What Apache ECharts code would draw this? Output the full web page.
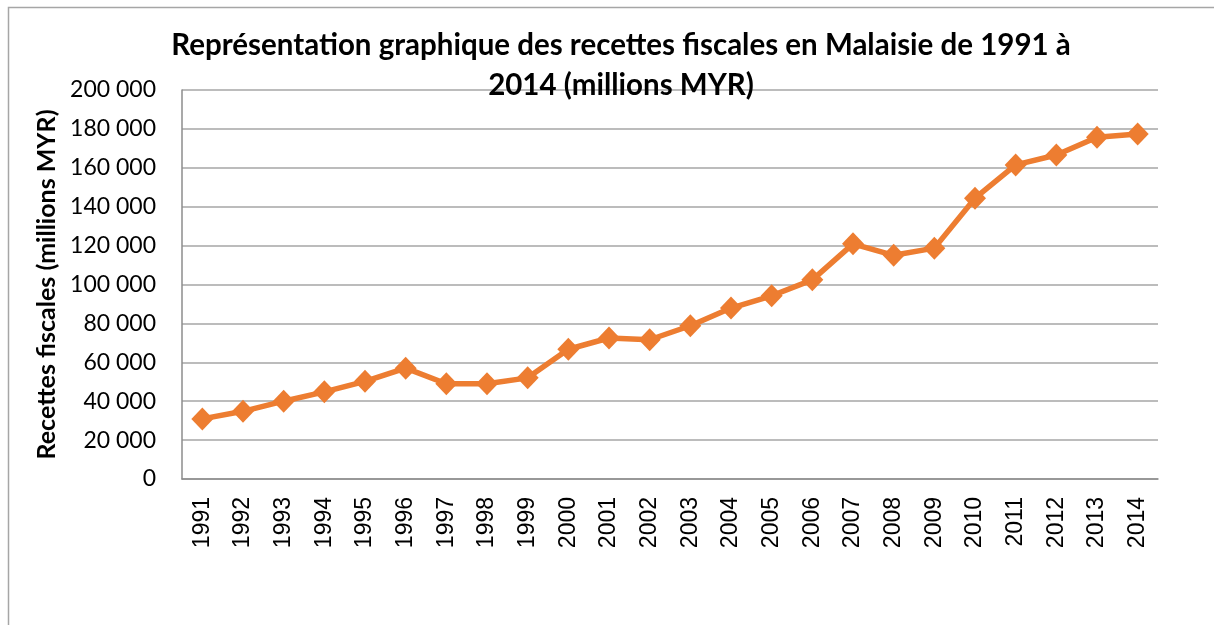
<!DOCTYPE html>
<html>
<head>
<meta charset="utf-8">
<title>Recettes fiscales Malaisie</title>
<script src="https://cdn.jsdelivr.net/npm/echarts@6/dist/echarts.min.js"></script>
<style>
  html, body { margin: 0; padding: 0; background: #fff; }
  #chart { width: 1214px; height: 625px; }
</style>
</head>
<body>
<div id="chart"></div>
<script>
// années (catégories)
const years = [
  "1991", "1992", "1993", "1994", "1995", "1996", "1997", "1998",
  "1999", "2000", "2001", "2002", "2003", "2004", "2005", "2006",
  "2007", "2008", "2009", "2010", "2011", "2012", "2013", "2014"
];

// recettes fiscales (millions MYR)
const recettes = [
  30900, 34800, 40000, 44800, 50200, 57000, 49000, 49000,
  52000, 66700, 72500, 71600, 78800, 87900, 94200, 102400,
  120900, 115000, 118700, 144400, 161500, 166600, 175700, 177400
];

const yTicks = { min: 0, max: 200000, interval: 20000 };

const titleText = "Représentation graphique des recettes fiscales en Malaisie de 1991 à\n2014 (millions MYR)";
const yAxisName = "Recettes fiscales (millions MYR)";

const lineColor = "#ED7D31";

const chart = echarts.init(document.getElementById("chart"));

// séparateur de milliers avec espace
const fmt = v => String(v).replace(/\B(?=(\d{3})+(?!\d))/g, " ");

chart.setOption({
  animation: false,
  backgroundColor: "#fff",
  title: {
    text: titleText,
    left: 616,
    textAlign: "center",
    top: 20,
    textStyle: {
      fontFamily: "Lato",
      fontSize: 29.5,
      fontWeight: "bold",
      color: "#000",
      lineHeight: 40
    }
  },
  graphic: [
    {
      type: "polyline",
      shape: { points: [[8.5, 625], [8.5, 7.5], [1214, 7.5]] },
      style: { stroke: "#a6a6a6", lineWidth: 1.5, fill: null },
      silent: true
    }
  ],
  grid: {
    left: 182,
    right: 56,
    top: 90,
    bottom: 146
  },
  xAxis: {
    type: "category",
    data: years,
    boundaryGap: true,
    axisLine: { lineStyle: { color: "#8c8c8c", width: 1.5 } },
    axisTick: { show: false },
    axisLabel: {
      rotate: 90,
      margin: 18,
      fontFamily: "Liberation Sans",
      fontSize: 23,
      color: "#000"
    }
  },
  yAxis: {
    type: "value",
    min: yTicks.min,
    max: yTicks.max,
    interval: yTicks.interval,
    name: yAxisName,
    nameLocation: "middle",
    nameGap: 121,
    nameTextStyle: {
      fontFamily: "Lato",
      fontSize: 25,
      fontWeight: "bold",
      color: "#000"
    },
    axisLine: { show: true, lineStyle: { color: "#8c8c8c", width: 1.5 } },
    axisTick: { show: false },
    splitLine: { lineStyle: { color: "#a6a6a6", width: 1.5 } },
    axisLabel: {
      margin: 26,
      fontFamily: "Lato",
      fontSize: 23,
      color: "#000",
      formatter: fmt
    }
  },
  series: [
    {
      type: "line",
      data: recettes,
      symbol: "diamond",
      symbolSize: [22, 23],
      lineStyle: { color: lineColor, width: 5.5 },
      itemStyle: { color: lineColor },
      z: 3
    }
  ]
});
</script>
</body>
</html>
